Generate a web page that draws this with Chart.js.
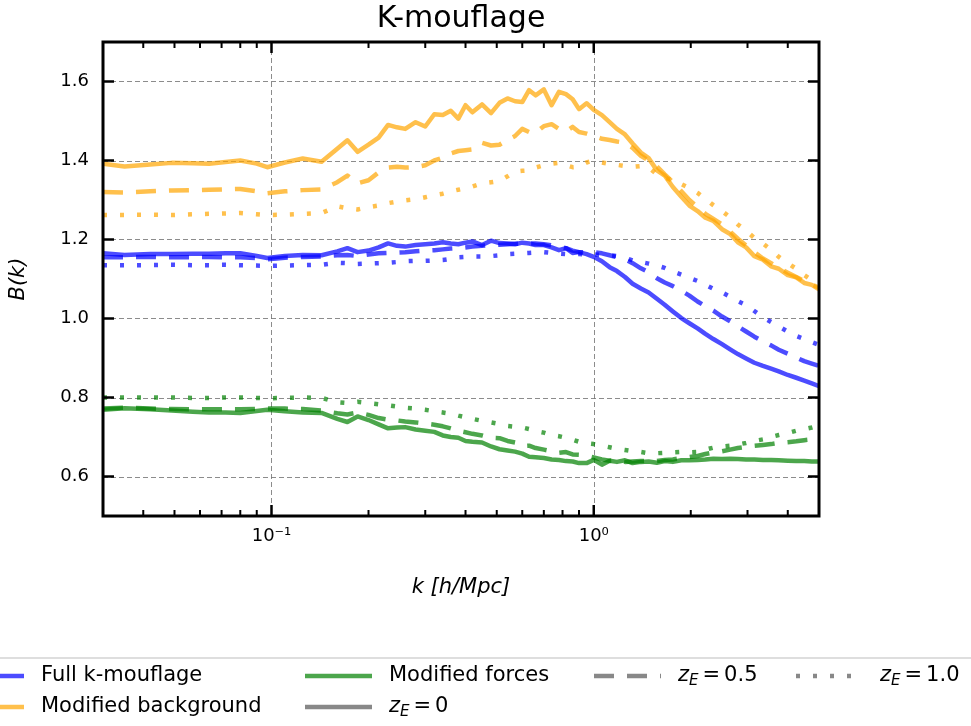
<!DOCTYPE html>
<html>
<head>
<meta charset="utf-8">
<script src="https://cdn.jsdelivr.net/npm/chart.js@4.4.1/dist/chart.umd.min.js"></script>
<style>
  html, body { margin: 0; padding: 0; background: #fff; }
  canvas { display: block; }
</style>
</head>
<body>
<canvas id="c" width="971" height="726"></canvas>
<script>
// wavenumbers k [h/Mpc], shared by every curve
const K = [0.030, 0.035, 0.042, 0.049, 0.057, 0.064, 0.072, 0.080, 0.090, 0.097,
  0.110, 0.125, 0.143, 0.160, 0.172, 0.185, 0.20, 0.215, 0.23, 0.245,
  0.26, 0.28, 0.30, 0.32, 0.34, 0.36, 0.38, 0.40, 0.42, 0.45,
  0.48, 0.51, 0.54, 0.57, 0.60, 0.63, 0.66, 0.70, 0.74, 0.78,
  0.82, 0.86, 0.90, 0.95, 1.00, 1.06, 1.12, 1.18, 1.25, 1.32,
  1.40, 1.48, 1.57, 1.66, 1.76, 1.87, 1.98, 2.10, 2.22, 2.35,
  2.50, 2.65, 2.80, 2.97, 3.15, 3.35, 3.55, 3.75, 4.00, 4.25,
  4.50, 4.75, 5.00];

// Full k-mouflage: z_E = 0, 0.5, 1.0
const fullZ0 = [1.165, 1.161, 1.163, 1.163, 1.164, 1.164, 1.165, 1.165, 1.158, 1.153,
  1.158, 1.161, 1.160, 1.170, 1.178, 1.168, 1.172, 1.180, 1.190, 1.184,
  1.182, 1.186, 1.188, 1.190, 1.193, 1.190, 1.188, 1.192, 1.195, 1.186,
  1.197, 1.191, 1.190, 1.188, 1.192, 1.190, 1.186, 1.186, 1.180, 1.173,
  1.178, 1.166, 1.168, 1.163, 1.156, 1.145, 1.130, 1.120, 1.105, 1.088,
  1.076, 1.066, 1.050, 1.035, 1.018, 1.001, 0.988, 0.975, 0.961, 0.948,
  0.935, 0.922, 0.910, 0.899, 0.888, 0.880, 0.873, 0.866, 0.857, 0.850,
  0.843, 0.836, 0.829];
const fullZ05 = [1.155, 1.155, 1.156, 1.155, 1.155, 1.156, 1.155, 1.155, 1.153, 1.150,
  1.154, 1.156, 1.157, 1.160, 1.161, 1.158, 1.162, 1.165, 1.166, 1.167,
  1.168, 1.170, 1.172, 1.173, 1.175, 1.177, 1.178, 1.180, 1.182, 1.184,
  1.186, 1.187, 1.188, 1.189, 1.190, 1.190, 1.190, 1.188, 1.185, 1.182,
  1.178, 1.172, 1.168, 1.168, 1.168, 1.165, 1.160, 1.155, 1.150, 1.140,
  1.127, 1.117, 1.102, 1.091, 1.082, 1.070, 1.058, 1.043, 1.031, 1.020,
  1.005, 0.993, 0.980, 0.967, 0.954, 0.942, 0.932, 0.921, 0.911, 0.901,
  0.892, 0.886, 0.880];
const fullZ1 = [1.135, 1.135, 1.135, 1.136, 1.135, 1.135, 1.136, 1.135, 1.134, 1.133,
  1.134, 1.135, 1.136, 1.141, 1.140, 1.138, 1.139, 1.140, 1.141, 1.143,
  1.145, 1.146, 1.146, 1.147, 1.148, 1.151, 1.155, 1.156, 1.157, 1.157,
  1.158, 1.160, 1.163, 1.164, 1.165, 1.166, 1.167, 1.168, 1.166, 1.164,
  1.163, 1.163, 1.163, 1.162, 1.162, 1.161, 1.160, 1.158, 1.154, 1.147,
  1.143, 1.139, 1.134, 1.128, 1.119, 1.111, 1.103, 1.095, 1.085, 1.075,
  1.066, 1.055, 1.044, 1.034, 1.019, 1.003, 0.991, 0.980, 0.967, 0.956,
  0.948, 0.940, 0.933];

// Modified background: z_E = 0, 0.5, 1.0
const bgZ0 = [1.392, 1.385, 1.390, 1.394, 1.393, 1.392, 1.396, 1.400, 1.392, 1.383,
  1.395, 1.405, 1.397, 1.430, 1.451, 1.422, 1.440, 1.458, 1.490, 1.484,
  1.480, 1.497, 1.486, 1.517, 1.515, 1.526, 1.506, 1.540, 1.522, 1.542,
  1.520, 1.546, 1.557, 1.550, 1.548, 1.578, 1.565, 1.580, 1.540, 1.574,
  1.568, 1.555, 1.530, 1.545, 1.528, 1.515, 1.497, 1.480, 1.466, 1.443,
  1.420, 1.406, 1.375, 1.362, 1.333, 1.308, 1.286, 1.272, 1.255, 1.247,
  1.226, 1.214, 1.193, 1.180, 1.158, 1.149, 1.132, 1.126, 1.110, 1.104,
  1.090, 1.085, 1.074];
const bgZ05 = [1.320, 1.319, 1.322, 1.324, 1.325, 1.326, 1.327, 1.328, 1.322, 1.317,
  1.322, 1.325, 1.327, 1.345, 1.362, 1.342, 1.350, 1.370, 1.382, 1.384,
  1.382, 1.383, 1.388, 1.400, 1.407, 1.418, 1.424, 1.426, 1.428, 1.445,
  1.438, 1.440, 1.452, 1.462, 1.480, 1.472, 1.470, 1.487, 1.492, 1.480,
  1.474, 1.485, 1.472, 1.468, 1.462, 1.455, 1.452, 1.448, 1.445, 1.432,
  1.412, 1.400, 1.385, 1.365, 1.345, 1.322, 1.300, 1.282, 1.265, 1.252,
  1.238, 1.220, 1.202, 1.185, 1.168, 1.152, 1.140, 1.128, 1.116, 1.105,
  1.095, 1.086, 1.078];
const bgZ1 = [1.262, 1.262, 1.263, 1.262, 1.264, 1.265, 1.266, 1.267, 1.264, 1.262,
  1.263, 1.265, 1.267, 1.284, 1.279, 1.276, 1.282, 1.286, 1.292, 1.296,
  1.299, 1.302, 1.307, 1.312, 1.316, 1.322, 1.326, 1.330, 1.334, 1.342,
  1.345, 1.348, 1.360, 1.372, 1.374, 1.375, 1.382, 1.388, 1.392, 1.394,
  1.388, 1.383, 1.384, 1.395, 1.400, 1.395, 1.391, 1.389, 1.386, 1.384,
  1.386, 1.382, 1.365, 1.357, 1.350, 1.340, 1.330, 1.318, 1.303, 1.287,
  1.272, 1.256, 1.238, 1.222, 1.204, 1.190, 1.174, 1.156, 1.140, 1.126,
  1.110, 1.097, 1.088];

// Modified forces: z_E = 0, 0.5, 1.0
const mfZ0 = [0.769, 0.773, 0.770, 0.767, 0.764, 0.762, 0.762, 0.761, 0.766, 0.769,
  0.765, 0.762, 0.761, 0.746, 0.738, 0.752, 0.743, 0.732, 0.722, 0.724,
  0.725, 0.719, 0.716, 0.713, 0.704, 0.700, 0.698, 0.690, 0.688, 0.686,
  0.676, 0.669, 0.666, 0.663, 0.658, 0.650, 0.649, 0.647, 0.643, 0.642,
  0.639, 0.638, 0.634, 0.634, 0.642, 0.630, 0.640, 0.637, 0.641, 0.634,
  0.637, 0.638, 0.635, 0.639, 0.637, 0.641, 0.641, 0.642, 0.643, 0.645,
  0.644, 0.645, 0.644, 0.643, 0.643, 0.642, 0.642, 0.641, 0.640, 0.639,
  0.639, 0.638, 0.638];
const mfZ05 = [0.772, 0.774, 0.772, 0.771, 0.770, 0.770, 0.770, 0.770, 0.771, 0.772,
  0.772, 0.771, 0.767, 0.760, 0.757, 0.762, 0.756, 0.748, 0.744, 0.742,
  0.739, 0.737, 0.734, 0.731, 0.727, 0.722, 0.716, 0.712, 0.708, 0.704,
  0.698, 0.697, 0.690, 0.686, 0.677, 0.678, 0.672, 0.668, 0.664, 0.660,
  0.662, 0.656, 0.655, 0.652, 0.648, 0.643, 0.640, 0.641, 0.637, 0.638,
  0.639, 0.640, 0.639, 0.642, 0.643, 0.647, 0.649, 0.652, 0.657, 0.661,
  0.664, 0.668, 0.672, 0.675, 0.678, 0.680, 0.682, 0.685, 0.687, 0.689,
  0.692, 0.694, 0.696];
const mfZ1 = [0.800, 0.800, 0.800, 0.800, 0.799, 0.799, 0.800, 0.800, 0.799, 0.798,
  0.799, 0.800, 0.799, 0.788, 0.786, 0.789, 0.786, 0.783, 0.780, 0.777,
  0.774, 0.772, 0.769, 0.765, 0.762, 0.759, 0.754, 0.750, 0.746, 0.741,
  0.737, 0.733, 0.728, 0.726, 0.724, 0.720, 0.715, 0.711, 0.705, 0.702,
  0.698, 0.693, 0.688, 0.684, 0.682, 0.678, 0.674, 0.670, 0.667, 0.664,
  0.662, 0.659, 0.659, 0.660, 0.661, 0.662, 0.661, 0.662, 0.668, 0.673,
  0.676, 0.678, 0.681, 0.685, 0.690, 0.694, 0.700, 0.705, 0.710, 0.716,
  0.720, 0.724, 0.729];

// axis ticks
const yTicks = [0.6, 0.8, 1.0, 1.2, 1.4, 1.6];
const xMajor = [0.1, 1];
const xMajorText = ['10\u207B\u00B9', '10\u2070'];
const xMinor = [0.04, 0.05, 0.06, 0.07, 0.08, 0.09, 0.2, 0.3, 0.4, 0.5, 0.6, 0.7, 0.8, 0.9, 2, 3, 4];

const BLUE = 'rgba(0,0,255,0.7)';
const ORANGE = 'rgba(255,165,0,0.7)';
const GREEN = 'rgba(0,128,0,0.7)';
const GREY = 'rgba(96,96,96,0.75)';
const DASH = [20, 13];
const DOT = [4, 13];
const FONT = "'DejaVu Sans', sans-serif";

function series(label, vals, color, dash) {
  return {
    label: label,
    data: K.map((k, i) => ({ x: k, y: vals[i] })),
    borderColor: color,
    backgroundColor: color,
    borderWidth: 4.5,
    borderDash: dash,
    borderCapStyle: dash.length ? 'butt' : 'square',
    borderJoinStyle: 'round',
    pointRadius: 0,
    tension: 0,
    fill: false
  };
}

const datasets = [
  series('Full k-mouflage', fullZ0, BLUE, []),
  series('Full k-mouflage z_E=0.5', fullZ05, BLUE, DASH),
  series('Full k-mouflage z_E=1.0', fullZ1, BLUE, DOT),
  series('Modified background', bgZ0, ORANGE, []),
  series('Modified background z_E=0.5', bgZ05, ORANGE, DASH),
  series('Modified background z_E=1.0', bgZ1, ORANGE, DOT),
  series('Modified forces', mfZ0, GREEN, []),
  series('Modified forces z_E=0.5', mfZ05, GREEN, DASH),
  series('Modified forces z_E=1.0', mfZ1, GREEN, DOT)
];

// legend entries: text x position, row, colour, dash, label or z_E value
const legendItems = [
  { x: 41, row: 0, color: BLUE, dash: [], text: 'Full k-mouflage' },
  { x: 41, row: 1, color: ORANGE, dash: [], text: 'Modified background' },
  { x: 389, row: 0, color: GREEN, dash: [], text: 'Modified forces' },
  { x: 389, row: 1, color: GREY, dash: [], zE: '0' },
  { x: 678, row: 0, color: GREY, dash: DASH, zE: '0.5' },
  { x: 880, row: 0, color: GREY, dash: DOT, zE: '1.0' }
];

const decor = {
  id: 'decor',
  beforeDatasetsDraw(chart) {
    const { ctx, chartArea: a, scales: { x, y } } = chart;
    ctx.save();
    ctx.strokeStyle = 'rgba(120,120,120,0.85)';
    ctx.lineWidth = 1;
    ctx.setLineDash([5, 3]);
    yTicks.forEach(v => {
      const py = Math.round(y.getPixelForValue(v)) + 0.5;
      ctx.beginPath(); ctx.moveTo(a.left, py); ctx.lineTo(a.right, py); ctx.stroke();
    });
    xMajor.forEach(v => {
      const px = Math.round(x.getPixelForValue(v)) + 0.5;
      ctx.beginPath(); ctx.moveTo(px, a.top); ctx.lineTo(px, a.bottom); ctx.stroke();
    });
    ctx.restore();
  },
  afterDatasetsDraw(chart) {
    const { ctx, chartArea: a, scales: { x, y } } = chart;
    ctx.save();
    ctx.strokeStyle = '#000';
    ctx.setLineDash([]);
    // inward ticks on all four sides
    ctx.lineWidth = 2.5;
    yTicks.forEach(v => {
      const py = y.getPixelForValue(v);
      ctx.beginPath(); ctx.moveTo(a.left, py); ctx.lineTo(a.left + 11, py); ctx.stroke();
      ctx.beginPath(); ctx.moveTo(a.right, py); ctx.lineTo(a.right - 11, py); ctx.stroke();
    });
    xMajor.forEach(v => {
      const px = x.getPixelForValue(v);
      ctx.beginPath(); ctx.moveTo(px, a.bottom); ctx.lineTo(px, a.bottom - 11); ctx.stroke();
      ctx.beginPath(); ctx.moveTo(px, a.top); ctx.lineTo(px, a.top + 11); ctx.stroke();
    });
    ctx.lineWidth = 2;
    xMinor.forEach(v => {
      const px = x.getPixelForValue(v);
      ctx.beginPath(); ctx.moveTo(px, a.bottom); ctx.lineTo(px, a.bottom - 6); ctx.stroke();
      ctx.beginPath(); ctx.moveTo(px, a.top); ctx.lineTo(px, a.top + 6); ctx.stroke();
    });
    // frame
    ctx.lineWidth = 3;
    ctx.strokeRect(a.left, a.top, a.right - a.left, a.bottom - a.top);
    ctx.restore();
  },
  afterDraw(chart) {
    const { ctx, chartArea: a } = chart;
    const cx = (a.left + a.right) / 2;
    ctx.save();
    ctx.fillStyle = '#000';
    ctx.textBaseline = 'middle';
    ctx.textAlign = 'center';
    // title
    ctx.font = '30px ' + FONT;
    ctx.fillText('K-mouflage', cx, 19);
    // axis titles
    ctx.font = 'italic 21px ' + FONT;
    ctx.fillText('k [h/Mpc]', cx, 588);
    ctx.save();
    ctx.translate(19, (a.top + a.bottom) / 2);
    ctx.rotate(-Math.PI / 2);
    ctx.fillText('B(k)', 0, 0);
    ctx.restore();

    // legend frame
    ctx.fillStyle = 'rgba(255,255,255,0.85)';
    ctx.strokeStyle = '#d4d4d4';
    ctx.lineWidth = 1.5;
    ctx.beginPath();
    ctx.roundRect(-6, 658, 983, 90, 4);
    ctx.fill();
    ctx.stroke();

    // legend entries
    const rows = [676, 707];
    ctx.textAlign = 'left';
    legendItems.forEach(it => {
      const yy = rows[it.row];
      ctx.save();
      ctx.strokeStyle = it.color;
      ctx.lineWidth = 4.5;
      ctx.setLineDash(it.dash);
      ctx.lineCap = 'butt';
      ctx.beginPath();
      ctx.moveTo(it.x - 84, yy);
      ctx.lineTo(it.x - 17, yy);
      ctx.stroke();
      ctx.restore();
      ctx.fillStyle = '#000';
      if (it.text) {
        ctx.font = '21px ' + FONT;
        ctx.fillText(it.text, it.x, yy);
      } else {
        let px = it.x;
        ctx.font = 'italic 21px ' + FONT;
        ctx.fillText('z', px, yy);
        px += ctx.measureText('z').width;
        ctx.font = 'italic 15px ' + FONT;
        ctx.fillText('E', px, yy + 5);
        px += ctx.measureText('E').width + 4;
        ctx.font = '21px ' + FONT;
        ctx.fillText('=', px, yy);
        px += ctx.measureText('=').width + 4;
        ctx.fillText(it.zE, px, yy);
      }
    });
    ctx.restore();
  }
};

new Chart(document.getElementById('c'), {
  type: 'line',
  data: { datasets: datasets },
  options: {
    responsive: false,
    animation: false,
    devicePixelRatio: 1,
    layout: { padding: { left: 0, right: 152, top: 42, bottom: 150 } },
    plugins: { legend: { display: false }, title: { display: false }, tooltip: { enabled: false } },
    scales: {
      x: {
        type: 'logarithmic',
        min: 0.03,
        max: 5,
        afterBuildTicks: s => { s.ticks = xMajor.map(v => ({ value: v, major: true })); },
        afterFit: s => { s.height = 60; },
        ticks: {
          autoSkip: false,
          maxRotation: 0,
          padding: 10,
          color: '#000',
          font: { family: FONT, size: 18 },
          callback: v => xMajorText[xMajor.indexOf(v)]
        },
        grid: { display: false, drawTicks: false },
        border: { display: false }
      },
      y: {
        type: 'linear',
        min: 0.5,
        max: 1.7,
        afterBuildTicks: s => { s.ticks = yTicks.map(v => ({ value: v })); },
        afterFit: s => { s.width = 103; },
        ticks: {
          padding: 14,
          color: '#000',
          font: { family: FONT, size: 18 },
          callback: v => Number(v).toFixed(1)
        },
        grid: { display: false, drawTicks: false },
        border: { display: false }
      }
    }
  },
  plugins: [decor]
});
</script>
</body>
</html>
